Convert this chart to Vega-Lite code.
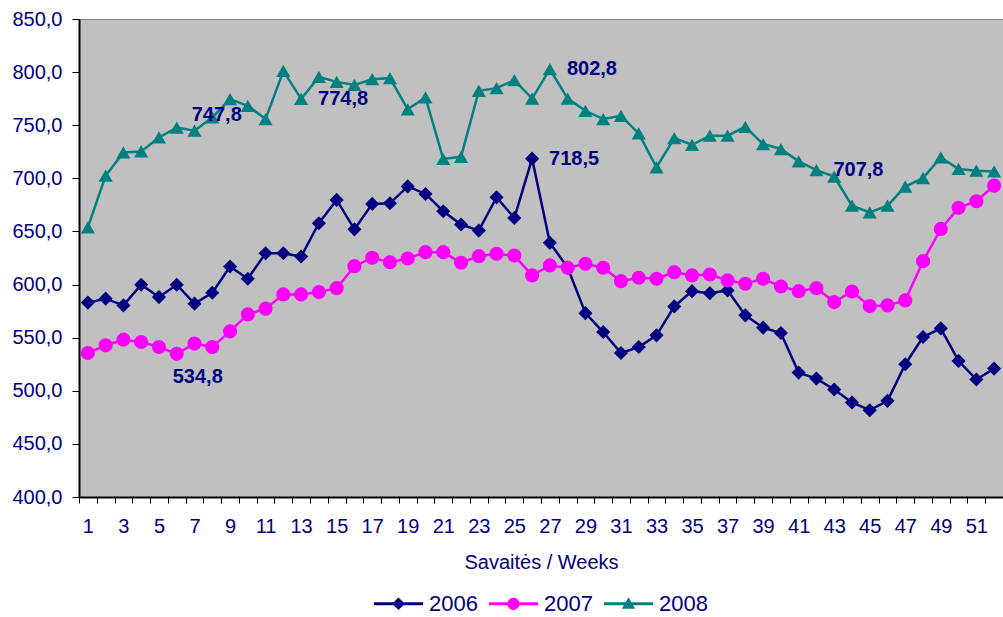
{
  "$schema": "https://vega.github.io/schema/vega-lite/v6.json",
  "width": 924,
  "height": 478,
  "autosize": {"type": "none"},
  "padding": {"left": 79, "top": 19, "right": 0, "bottom": 120},
  "datasets": {
    "series": [
      {"week": 1, "year": "2006", "value": 583.0}, {"week": 2, "year": "2006", "value": 586.7}, {"week": 3, "year": "2006", "value": 580.4}, {"week": 4, "year": "2006", "value": 599.8}, {"week": 5, "year": "2006", "value": 588.2}, {"week": 6, "year": "2006", "value": 599.8}, {"week": 7, "year": "2006", "value": 582.0}, {"week": 8, "year": "2006", "value": 592.3}, {"week": 9, "year": "2006", "value": 617.0}, {"week": 10, "year": "2006", "value": 605.5}, {"week": 11, "year": "2006", "value": 629.5}, {"week": 12, "year": "2006", "value": 629.5}, {"week": 13, "year": "2006", "value": 626.4}, {"week": 14, "year": "2006", "value": 657.7}, {"week": 15, "year": "2006", "value": 679.7}, {"week": 16, "year": "2006", "value": 652.0}, {"week": 17, "year": "2006", "value": 675.9}, {"week": 18, "year": "2006", "value": 676.5}, {"week": 19, "year": "2006", "value": 692.4}, {"week": 20, "year": "2006", "value": 685.3}, {"week": 21, "year": "2006", "value": 669.0}, {"week": 22, "year": "2006", "value": 656.5}, {"week": 23, "year": "2006", "value": 650.8}, {"week": 24, "year": "2006", "value": 682.1}, {"week": 25, "year": "2006", "value": 662.7}, {"week": 26, "year": "2006", "value": 718.5}, {"week": 27, "year": "2006", "value": 639.3}, {"week": 28, "year": "2006", "value": 616.0}, {"week": 29, "year": "2006", "value": 573.1}, {"week": 30, "year": "2006", "value": 555.3}, {"week": 31, "year": "2006", "value": 535.6}, {"week": 32, "year": "2006", "value": 541.2}, {"week": 33, "year": "2006", "value": 552.2}, {"week": 34, "year": "2006", "value": 579.4}, {"week": 35, "year": "2006", "value": 593.8}, {"week": 36, "year": "2006", "value": 591.9}, {"week": 37, "year": "2006", "value": 594.5}, {"week": 38, "year": "2006", "value": 571.0}, {"week": 39, "year": "2006", "value": 559.4}, {"week": 40, "year": "2006", "value": 554.4}, {"week": 41, "year": "2006", "value": 517.1}, {"week": 42, "year": "2006", "value": 511.5}, {"week": 43, "year": "2006", "value": 501.2}, {"week": 44, "year": "2006", "value": 489.0}, {"week": 45, "year": "2006", "value": 481.7}, {"week": 46, "year": "2006", "value": 490.5}, {"week": 47, "year": "2006", "value": 525.0}, {"week": 48, "year": "2006", "value": 550.6}, {"week": 49, "year": "2006", "value": 558.8}, {"week": 50, "year": "2006", "value": 528.1}, {"week": 51, "year": "2006", "value": 510.6}, {"week": 52, "year": "2006", "value": 520.9},
      {"week": 1, "year": "2007", "value": 535.6}, {"week": 2, "year": "2007", "value": 542.8}, {"week": 3, "year": "2007", "value": 548.1}, {"week": 4, "year": "2007", "value": 545.9}, {"week": 5, "year": "2007", "value": 541.2}, {"week": 6, "year": "2007", "value": 534.8}, {"week": 7, "year": "2007", "value": 544.4}, {"week": 8, "year": "2007", "value": 541.2}, {"week": 9, "year": "2007", "value": 555.9}, {"week": 10, "year": "2007", "value": 571.9}, {"week": 11, "year": "2007", "value": 577.3}, {"week": 12, "year": "2007", "value": 590.7}, {"week": 13, "year": "2007", "value": 590.7}, {"week": 14, "year": "2007", "value": 592.9}, {"week": 15, "year": "2007", "value": 596.6}, {"week": 16, "year": "2007", "value": 617.3}, {"week": 17, "year": "2007", "value": 625.2}, {"week": 18, "year": "2007", "value": 621.0}, {"week": 19, "year": "2007", "value": 624.5}, {"week": 20, "year": "2007", "value": 630.5}, {"week": 21, "year": "2007", "value": 630.5}, {"week": 22, "year": "2007", "value": 620.5}, {"week": 23, "year": "2007", "value": 626.7}, {"week": 24, "year": "2007", "value": 628.9}, {"week": 25, "year": "2007", "value": 627.3}, {"week": 26, "year": "2007", "value": 608.6}, {"week": 27, "year": "2007", "value": 618.0}, {"week": 28, "year": "2007", "value": 615.8}, {"week": 29, "year": "2007", "value": 619.5}, {"week": 30, "year": "2007", "value": 615.8}, {"week": 31, "year": "2007", "value": 603.2}, {"week": 32, "year": "2007", "value": 606.4}, {"week": 33, "year": "2007", "value": 605.5}, {"week": 34, "year": "2007", "value": 611.7}, {"week": 35, "year": "2007", "value": 608.6}, {"week": 36, "year": "2007", "value": 609.5}, {"week": 37, "year": "2007", "value": 603.9}, {"week": 38, "year": "2007", "value": 600.8}, {"week": 39, "year": "2007", "value": 605.4}, {"week": 40, "year": "2007", "value": 598.2}, {"week": 41, "year": "2007", "value": 593.8}, {"week": 42, "year": "2007", "value": 596.6}, {"week": 43, "year": "2007", "value": 583.5}, {"week": 44, "year": "2007", "value": 593.5}, {"week": 45, "year": "2007", "value": 579.7}, {"week": 46, "year": "2007", "value": 580.4}, {"week": 47, "year": "2007", "value": 585.1}, {"week": 48, "year": "2007", "value": 622.0}, {"week": 49, "year": "2007", "value": 652.4}, {"week": 50, "year": "2007", "value": 672.2}, {"week": 51, "year": "2007", "value": 678.4}, {"week": 52, "year": "2007", "value": 693.1},
      {"week": 1, "year": "2008", "value": 653.9}, {"week": 2, "year": "2008", "value": 702.5}, {"week": 3, "year": "2008", "value": 724.4}, {"week": 4, "year": "2008", "value": 725.3}, {"week": 5, "year": "2008", "value": 738.5}, {"week": 6, "year": "2008", "value": 747.8}, {"week": 7, "year": "2008", "value": 744.8}, {"week": 8, "year": "2008", "value": 757.3}, {"week": 9, "year": "2008", "value": 774.5}, {"week": 10, "year": "2008", "value": 768.3}, {"week": 11, "year": "2008", "value": 755.8}, {"week": 12, "year": "2008", "value": 801.1}, {"week": 13, "year": "2008", "value": 774.8}, {"week": 14, "year": "2008", "value": 795.5}, {"week": 15, "year": "2008", "value": 790.8}, {"week": 16, "year": "2008", "value": 788.0}, {"week": 17, "year": "2008", "value": 793.3}, {"week": 18, "year": "2008", "value": 794.3}, {"week": 19, "year": "2008", "value": 765.0}, {"week": 20, "year": "2008", "value": 776.1}, {"week": 21, "year": "2008", "value": 718.2}, {"week": 22, "year": "2008", "value": 720.3}, {"week": 23, "year": "2008", "value": 782.4}, {"week": 24, "year": "2008", "value": 784.9}, {"week": 25, "year": "2008", "value": 792.4}, {"week": 26, "year": "2008", "value": 775.1}, {"week": 27, "year": "2008", "value": 802.8}, {"week": 28, "year": "2008", "value": 775.1}, {"week": 29, "year": "2008", "value": 763.6}, {"week": 30, "year": "2008", "value": 755.8}, {"week": 31, "year": "2008", "value": 758.9}, {"week": 32, "year": "2008", "value": 742.3}, {"week": 33, "year": "2008", "value": 710.3}, {"week": 34, "year": "2008", "value": 737.9}, {"week": 35, "year": "2008", "value": 731.6}, {"week": 36, "year": "2008", "value": 740.1}, {"week": 37, "year": "2008", "value": 740.1}, {"week": 38, "year": "2008", "value": 748.5}, {"week": 39, "year": "2008", "value": 732.3}, {"week": 40, "year": "2008", "value": 727.6}, {"week": 41, "year": "2008", "value": 716.0}, {"week": 42, "year": "2008", "value": 707.8}, {"week": 43, "year": "2008", "value": 701.6}, {"week": 44, "year": "2008", "value": 674.3}, {"week": 45, "year": "2008", "value": 668.0}, {"week": 46, "year": "2008", "value": 674.3}, {"week": 47, "year": "2008", "value": 692.2}, {"week": 48, "year": "2008", "value": 700.3}, {"week": 49, "year": "2008", "value": 719.7}, {"week": 50, "year": "2008", "value": 708.8}, {"week": 51, "year": "2008", "value": 707.2}, {"week": 52, "year": "2008", "value": 706.5}
    ],
    "notes": [
      {"week": 6, "value": 534.8, "label": "534,8", "pos": "below"},
      {"week": 6, "value": 747.8, "label": "747,8", "pos": "above"},
      {"week": 13, "value": 774.8, "label": "774,8", "pos": "right"},
      {"week": 26, "value": 718.5, "label": "718,5", "pos": "right"},
      {"week": 27, "value": 802.8, "label": "802,8", "pos": "right"},
      {"week": 42, "value": 707.8, "label": "707,8", "pos": "right"}
    ]
  },
  "config": {
    "font": "Liberation Sans",
    "view": {"fill": "#c0c0c0", "stroke": "#808080", "strokeWidth": 1},
    "axis": {"grid": false, "domainColor": "#000000", "domainWidth": 2, "tickColor": "#000000", "tickWidth": 1, "labelColor": "#000080", "labelFontSize": 20, "titleColor": "#000080", "titleFontSize": 20, "titleFontWeight": "normal"},
    "legend": {"orient": "bottom", "layout": {"bottom": {"anchor": "middle"}}}
  },
  "encoding": {
    "x": {
      "field": "week", "type": "ordinal",
      "scale": {"type": "band", "paddingInner": 0, "paddingOuter": 0},
      "axis": {"title": "Savaitės / Weeks", "tickBand": "extent", "labelAngle": 0, "labelOverlap": false, "labelExpr": "datum.value % 2 == 1 ? datum.label : ''", "tickSize": 6, "labelPadding": 13, "titlePadding": 16}
    },
    "y": {
      "field": "value", "type": "quantitative",
      "scale": {"domain": [400, 850], "nice": false, "zero": false},
      "axis": {"title": null, "values": [400, 450, 500, 550, 600, 650, 700, 750, 800, 850], "labelExpr": "replace(format(datum.value, '.1f'), '.', ',')", "tickSize": 7, "labelPadding": 10}
    }
  },
  "layer": [
    {
      "data": {"name": "series"},
      "mark": {"type": "line", "strokeWidth": 2.5},
      "encoding": {
        "color": {"field": "year", "type": "nominal", "scale": {"domain": ["2006", "2007", "2008"], "range": ["#000080", "#ff00ff", "#008080"]}, "legend": null}
      }
    },
    {
      "data": {"name": "series"},
      "mark": {"type": "point", "filled": true, "opacity": 1, "size": 200, "strokeWidth": 0},
      "encoding": {
        "color": {"field": "year", "type": "nominal", "scale": {"domain": ["2006", "2007", "2008"], "range": ["#000080", "#ff00ff", "#008080"]}, "legend": null},
        "shape": {"field": "year", "type": "nominal", "scale": {"domain": ["2006", "2007", "2008"], "range": ["diamond", "circle", "triangle-up"]}, "legend": null}
      }
    },
    {
      "data": {"name": "series"},
      "transform": [{"filter": "datum.week > 100"}],
      "mark": {"type": "point", "filled": true, "opacity": 1, "strokeWidth": 0},
      "encoding": {
        "color": {"field": "year", "type": "nominal", "title": null, "scale": {"domain": ["2006", "2007", "2008"], "range": ["#000080", "#ff00ff", "#008080"]},
          "legend": {"orient": "bottom", "direction": "horizontal", "title": null, "symbolSize": 2401, "symbolStrokeWidth": 0, "symbolOpacity": 1, "labelFontSize": 22, "labelColor": "#000080", "columnPadding": 11, "labelOffset": 6, "offset": 7}},
        "shape": {"field": "year", "type": "nominal", "title": null, "scale": {"domain": ["2006", "2007", "2008"], "range": [
          "M-1,-0.06H1V0.06H-1Z M0,-0.26L0.26,0L0,0.26L-0.26,0Z",
          "M-1,-0.06H1V0.06H-1Z M-0.25,0A0.25,0.25 0 1,1 0.25,0A0.25,0.25 0 1,1 -0.25,0Z",
          "M-1,-0.06H1V0.06H-1Z M0,-0.27L0.27,0.2L-0.27,0.2Z"
        ]},
          "legend": {"orient": "bottom", "direction": "horizontal", "title": null, "symbolSize": 2401, "symbolStrokeWidth": 0, "symbolOpacity": 1, "labelFontSize": 22, "labelColor": "#000080", "columnPadding": 11, "labelOffset": 6, "offset": 7}},
        "size": {"value": 2401}
      }
    },
    {
      "data": {"name": "notes"},
      "transform": [{"filter": "datum.pos == 'right'"}],
      "mark": {"type": "text", "align": "left", "baseline": "middle", "dx": 17, "dy": 0, "fontSize": 20, "fontWeight": "bold", "color": "#000080"},
      "encoding": {"text": {"field": "label"}}
    },
    {
      "data": {"name": "notes"},
      "transform": [{"filter": "datum.pos == 'below'"}],
      "mark": {"type": "text", "align": "left", "baseline": "middle", "dx": -4, "dy": 23, "fontSize": 20, "fontWeight": "bold", "color": "#000080"},
      "encoding": {"text": {"field": "label"}}
    },
    {
      "data": {"name": "notes"},
      "transform": [{"filter": "datum.pos == 'above'"}],
      "mark": {"type": "text", "align": "left", "baseline": "middle", "dx": 15, "dy": -13, "fontSize": 20, "fontWeight": "bold", "color": "#000080"},
      "encoding": {"text": {"field": "label"}}
    }
  ],
  "resolve": {"scale": {"color": "independent", "shape": "independent"}}
}
